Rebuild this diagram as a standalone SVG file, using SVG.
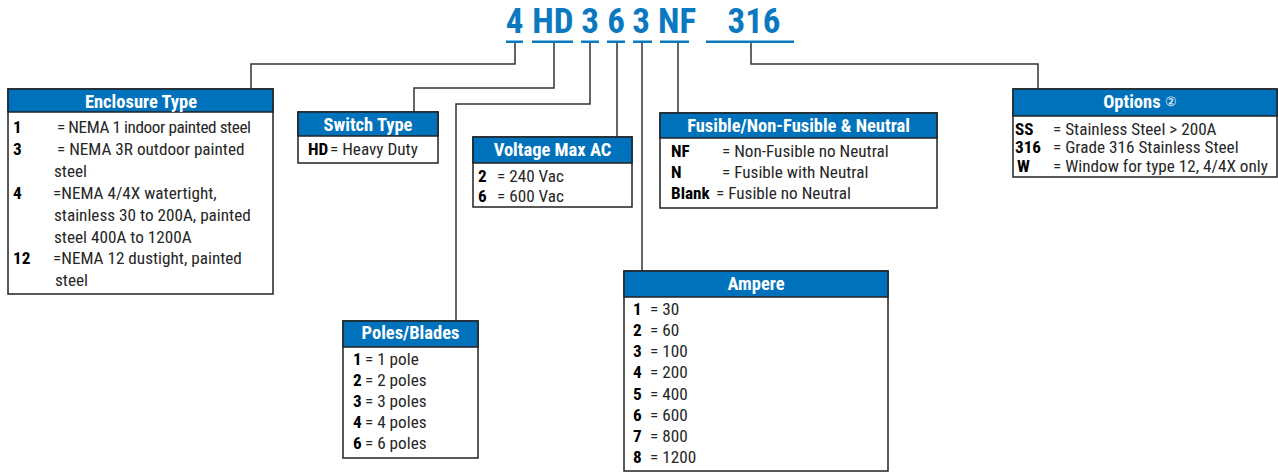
<svg xmlns="http://www.w3.org/2000/svg" width="1278" height="472" viewBox="0 0 1278 472">
<style>
.t{font-family:"Roboto Condensed","Liberation Sans Narrow","Liberation Sans",sans-serif;}
.title{font-size:35px;font-weight:bold;fill:#0a79c0;text-anchor:middle;}
.hd{font-size:18.5px;font-weight:bold;fill:#fff;text-anchor:middle;}
.b{font-size:17.2px;fill:#262626;}
.k{font-weight:bold;fill:#000;}
.box{fill:#fff;stroke:#222;stroke-width:1.5;}
.hb{fill:#0072bc;stroke:#222;stroke-width:1.5;}
.ul{fill:#0a79c0;}
.c{fill:none;stroke:#333;stroke-width:1.5;}
</style>
<rect width="1278" height="472" fill="#fff"/>
<g id="code" class="t">
<text class="t title" x="514.5" y="33">4</text>
<text class="t title" x="553" y="33">HD</text>
<text class="t title" x="590" y="33">3</text>
<text class="t title" x="616" y="33">6</text>
<text class="t title" x="641" y="33">3</text>
<text class="t title" x="677" y="33">NF</text>
<text class="t title" x="754" y="33">316</text>
<rect class="ul" x="506" y="40.5" width="17" height="2.5"/>
<rect class="ul" x="532" y="40.5" width="41" height="2.5"/>
<rect class="ul" x="581" y="40.5" width="18" height="2.5"/>
<rect class="ul" x="607" y="40.5" width="18" height="2.5"/>
<rect class="ul" x="633" y="40.5" width="19" height="2.5"/>
<rect class="ul" x="660" y="40.5" width="29" height="2.5"/>
<rect class="ul" x="706" y="40.5" width="88" height="2.5"/>
</g>
<g id="connectors">
<path class="c" d="M515,43 V64 H251 V89"/>
<path class="c" d="M554,43 V88 H414 V112"/>
<path class="c" d="M590,43 V104 H456 V321"/>
<path class="c" d="M617,43 V137"/>
<path class="c" d="M642,43 V271"/>
<path class="c" d="M678,43 V113"/>
<path class="c" d="M751,43 V64 H1038 V89"/>
</g>
<g id="enclosure-type" class="t">
<rect class="box" x="8" y="89" width="265" height="205"/>
<rect class="hb" x="8" y="89" width="265" height="23"/>
<text class="t hd" x="141" y="108">Enclosure Type</text>
<text class="t b" y="133"><tspan class="k" x="13">1</tspan><tspan x="57" textLength="194" lengthAdjust="spacing">= NEMA 1 indoor painted steel</tspan></text>
<text class="t b" y="155"><tspan class="k" x="13">3</tspan><tspan x="57">= NEMA 3R outdoor painted</tspan></text>
<text class="t b" x="54" y="177">steel</text>
<text class="t b" y="199"><tspan class="k" x="13">4</tspan><tspan x="53">=NEMA 4/4X watertight,</tspan></text>
<text class="t b" x="54" y="221">stainless 30 to 200A, painted</text>
<text class="t b" x="54" y="243">steel 400A to 1200A</text>
<text class="t b" y="264"><tspan class="k" x="13">12</tspan><tspan x="53">=NEMA 12 dustight, painted</tspan></text>
<text class="t b" x="55" y="286">steel</text>
</g>
<g id="switch-type" class="t">
<rect class="box" x="298" y="112" width="140" height="51"/>
<rect class="hb" x="298" y="112" width="140" height="24"/>
<text class="t hd" x="368" y="131">Switch Type</text>
<text class="t b" y="155"><tspan class="k" x="308">HD</tspan><tspan x="330">= Heavy Duty</tspan></text>
</g>
<g id="poles-blades" class="t">
<rect class="box" x="343" y="321" width="135" height="137"/>
<rect class="hb" x="343" y="321" width="135" height="26"/>
<text class="t hd" x="410.5" y="339">Poles/Blades</text>
<text class="t b" y="365"><tspan class="k" x="353">1</tspan><tspan x="365">= 1 pole</tspan></text>
<text class="t b" y="386"><tspan class="k" x="353">2</tspan><tspan x="365">= 2 poles</tspan></text>
<text class="t b" y="407"><tspan class="k" x="353">3</tspan><tspan x="365">= 3 poles</tspan></text>
<text class="t b" y="428"><tspan class="k" x="353">4</tspan><tspan x="365">= 4 poles</tspan></text>
<text class="t b" y="449"><tspan class="k" x="353">6</tspan><tspan x="365">= 6 poles</tspan></text>
</g>
<g id="voltage-max-ac" class="t">
<rect class="box" x="473" y="137" width="159" height="70"/>
<rect class="hb" x="473" y="137" width="159" height="26"/>
<text class="t hd" x="552.5" y="156">Voltage Max AC</text>
<text class="t b" y="182"><tspan class="k" x="478">2</tspan><tspan x="497">= 240 Vac</tspan></text>
<text class="t b" y="202"><tspan class="k" x="478">6</tspan><tspan x="497">= 600 Vac</tspan></text>
</g>
<g id="ampere" class="t">
<rect class="box" x="624" y="271" width="264" height="200"/>
<rect class="hb" x="624" y="271" width="264" height="26"/>
<text class="t hd" x="756" y="290">Ampere</text>
<text class="t b" y="315"><tspan class="k" x="633">1</tspan><tspan x="650">= 30</tspan></text>
<text class="t b" y="336"><tspan class="k" x="633">2</tspan><tspan x="650">= 60</tspan></text>
<text class="t b" y="357"><tspan class="k" x="633">3</tspan><tspan x="650">= 100</tspan></text>
<text class="t b" y="378"><tspan class="k" x="633">4</tspan><tspan x="650">= 200</tspan></text>
<text class="t b" y="400"><tspan class="k" x="633">5</tspan><tspan x="650">= 400</tspan></text>
<text class="t b" y="421"><tspan class="k" x="633">6</tspan><tspan x="650">= 600</tspan></text>
<text class="t b" y="442"><tspan class="k" x="633">7</tspan><tspan x="650">= 800</tspan></text>
<text class="t b" y="463"><tspan class="k" x="633">8</tspan><tspan x="650">= 1200</tspan></text>
</g>
<g id="fusible-neutral" class="t">
<rect class="box" x="660" y="113" width="277" height="95"/>
<rect class="hb" x="660" y="113" width="277" height="25"/>
<text class="t hd" x="798.5" y="132">Fusible/Non-Fusible &amp; Neutral</text>
<text class="t b" y="157"><tspan class="k" x="671">NF</tspan><tspan x="722">= Non-Fusible no Neutral</tspan></text>
<text class="t b" y="178"><tspan class="k" x="671">N</tspan><tspan x="722">= Fusible with Neutral</tspan></text>
<text class="t b" y="199"><tspan class="k" x="671">Blank</tspan><tspan x="716">= Fusible no Neutral</tspan></text>
</g>
<g id="options" class="t">
<rect class="box" x="1013" y="89" width="264" height="88"/>
<rect class="hb" x="1013" y="89" width="264" height="27"/>
<text class="t hd" x="1140" y="108">Options <tspan font-size="13" font-weight="normal" dy="-2">②</tspan></text>
<text class="t b" y="135"><tspan class="k" x="1015">SS</tspan><tspan x="1053">= Stainless Steel &gt; 200A</tspan></text>
<text class="t b" y="153"><tspan class="k" x="1015">316</tspan><tspan x="1053">= Grade 316 Stainless Steel</tspan></text>
<text class="t b" y="172"><tspan class="k" x="1017">W</tspan><tspan x="1053">= Window for type 12, 4/4X only</tspan></text>
</g>
</svg>
